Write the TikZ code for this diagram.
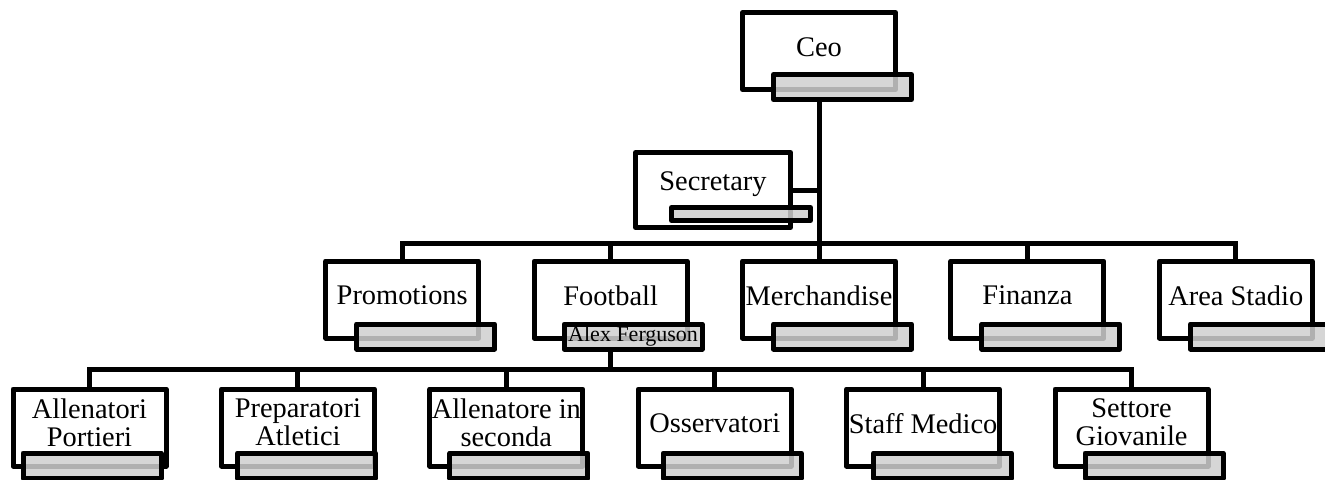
\documentclass[tikz,border=0pt]{standalone}
\usepackage{fontspec}
\setmainfont{Liberation Serif}
\usetikzlibrary{positioning}

\begin{document}
\begin{tikzpicture}[x=0.5pt, y=-0.5pt, line width=2.5pt, line join=round,
                    node distance=25.2pt]
    \tikzstyle{unit}=[draw, fill=white, rectangle, inner sep=0pt,
                      minimum width=76.5pt, minimum height=38.5pt]
    \tikzstyle{bar}=[draw, fill=black!19, fill opacity=0.85, text opacity=1,
                     inner sep=0pt, anchor=north west,
                     minimum width=69pt, minimum height=12.5pt,
                     font=\fontsize{11}{12}\selectfont]
    \tikzstyle{lbl}=[align=center, inner sep=0pt, font=\fontsize{14.2}{14}\selectfont]
    \tikzstyle{link}=[line cap=rect]

    \useasboundingbox (0,0) rectangle (1325,479);

    \node[unit]                (ceo)  at (819,51)     {};
    \node[unit, minimum width=77.5pt, minimum height=37.5pt]
                               (sec)  at (713,190)    {};

    \node[unit]                (merc) at (819,299.5)  {};
    \node[unit, left=of merc]  (foot)                 {};
    \node[unit, left=of foot]  (prom)                 {};
    \node[unit, right=of merc] (fin)                  {};
    \node[unit, right=of fin]  (stad)                 {};

    \node[unit]                (ap)   at (89.5,427.5) {};
    \node[unit, right=of ap]   (pa)                   {};
    \node[unit, right=of pa]   (as)                   {};
    \node[unit, right=of as]   (os)                   {};
    \node[unit, right=of os]   (sm)                   {};
    \node[unit, right=of sm]   (sg)                   {};

    \node[bar] (ceo-bar) at ([xshift=15.5pt, yshift=10pt]ceo.south west) {};
    \node[bar, minimum width=69.5pt, minimum height=6.5pt]
               (sec-bar) at ([xshift=18pt, yshift=12.5pt]sec.south west) {};
    \node[bar] (foot-bar) at ([xshift=15pt, yshift=9.5pt]foot.south west) {Alex Ferguson};
    \foreach \n in {prom,merc,fin,stad}
        \node[bar] (\n-bar) at ([xshift=15.5pt, yshift=9.5pt]\n.south west) {};
    \foreach \n/\dx in {ap/5,pa/8,as/10,os/12.5,sm/13.5,sg/15}
        \node[bar] (\n-bar) at ([xshift=\dx pt, yshift=9pt]\n.south west) {};

    \node[lbl] (ceo-t)  at ([yshift=-18.5pt]ceo.north)  {Ceo};
    \node[lbl] (sec-t)  at ([yshift=-17pt]sec.north)    {Secretary};
    \node[lbl] (prom-t) at ([yshift=-18.5pt]prom.north) {Promotions};
    \node[lbl] (foot-t) at ([yshift=-18.5pt]foot.north) {Football};
    \node[lbl] (merc-t) at ([yshift=-18.5pt]merc.north) {Merchandise};
    \node[lbl] (fin-t)  at ([yshift=-18.5pt]fin.north)  {Finanza};
    \node[lbl] (stad-t) at ([yshift=-18.5pt]stad.north) {Area Stadio};
    \node[lbl] (ap-t)   at ([yshift=-18pt]ap.north)     {Allenatori\\Portieri};
    \node[lbl] (pa-t)   at ([yshift=-18pt]pa.north)     {Preparatori\\Atletici};
    \node[lbl] (as-t)   at ([yshift=-18pt]as.north)     {Allenatore in\\seconda};
    \node[lbl] (os-t)   at ([yshift=-18.5pt]os.north)   {Osservatori};
    \node[lbl] (sm-t)   at ([yshift=-18.5pt]sm.north)   {Staff Medico};
    \node[lbl] (sg-t)   at ([yshift=-18pt]sg.north)     {Settore\\Giovanile};

    \coordinate (bus2) at (819,243);
    \coordinate (bus3) at ([yshift=-9pt]foot |- foot-bar.south);

    \draw[link] (ceo.south |- ceo-bar.south) -- (merc);
    \draw[link] (sec) -- (sec -| ceo);
    \draw[link] (prom |- bus2) -- (stad |- bus2);
    \foreach \n in {prom,foot,fin,stad}
        \draw[link] (\n |- bus2) -- (\n);
    \draw[link] (foot.south |- foot-bar.south) -- (bus3);
    \draw[link] (ap |- bus3) -- (sg |- bus3);
    \foreach \n in {ap,pa,as,os,sm,sg}
        \draw[link] (\n |- bus3) -- (\n);
\end{tikzpicture}
\end{document}
